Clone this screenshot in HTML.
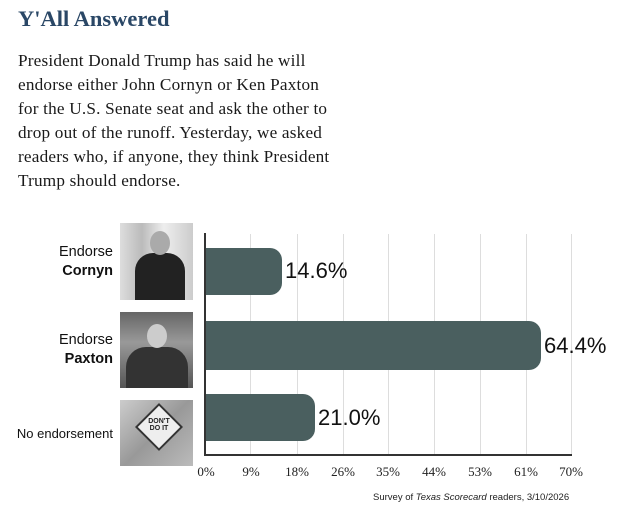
<!DOCTYPE html>
<html><head><meta charset="utf-8"><style>
body{margin:0;width:627px;height:517px;background:#fff;position:relative;overflow:hidden;font-family:"Liberation Sans",sans-serif}
.t{position:absolute;left:18px;top:6px;font:bold 22.5px "Liberation Serif",serif;color:#2a4766}
.p{position:absolute;left:18px;top:49px;width:380px;font:17.2px/24px "Liberation Serif",serif;color:#1a1a1a;letter-spacing:0.2px}
.p div{white-space:nowrap}
.ab{position:absolute}
.g{position:absolute;top:234px;height:221px;width:1px;background:#ddd}
.bar{position:absolute;left:206px;background:#4a5f5f;border-radius:0 12px 12px 0}
.v{position:absolute;font-size:22px;color:#111}
.tk{position:absolute;top:464px;font:13px "Liberation Serif",serif;color:#222;width:40px;margin-left:-20px;text-align:center}
.lab{position:absolute;font-size:14.5px;color:#111;text-align:right;line-height:19px}
.img{position:absolute;left:120px;width:73px}
</style></head><body>
<div class="t">Y'All Answered</div>
<div class="p"><div>President Donald Trump has said he will</div><div>endorse either John Cornyn or Ken Paxton</div><div>for the U.S. Senate seat and ask the other to</div><div>drop out of the runoff. Yesterday, we asked</div><div>readers who, if anyone, they think President</div><div>Trump should endorse.</div></div>

<div class="g" style="left:250px"></div><div class="g" style="left:297px"></div><div class="g" style="left:343px"></div><div class="g" style="left:388px"></div><div class="g" style="left:434px"></div><div class="g" style="left:480px"></div><div class="g" style="left:526px"></div><div class="g" style="left:571px"></div>
<div class="ab" style="left:204px;top:233px;width:2px;height:223px;background:#333"></div>
<div class="ab" style="left:204px;top:454px;width:368px;height:2px;background:#333"></div>

<div class="bar" style="top:248px;height:47px;width:76px"></div>
<div class="bar" style="top:321px;height:49px;width:335px"></div>
<div class="bar" style="top:394px;height:47px;width:109px"></div>
<div class="v" style="left:285px;top:258px">14.6%</div>
<div class="v" style="left:544px;top:333px">64.4%</div>
<div class="v" style="left:318px;top:405px">21.0%</div>

<div class="lab" style="right:514px;top:243px">Endorse<br><b>Cornyn</b></div>
<div class="lab" style="right:514px;top:331px">Endorse<br><b>Paxton</b></div>
<div class="lab" style="right:514px;top:424px;font-size:13px">No endorsement</div>

<div class="img" style="top:223px;height:77px;background:linear-gradient(90deg,#ddd,#bbb 30%,#eee 60%,#ccc)"><div class="ab" style="left:15px;top:30px;width:50px;height:47px;background:#222;border-radius:18px 18px 0 0"></div><div class="ab" style="left:30px;top:8px;width:20px;height:24px;background:#aaa;border-radius:50%"></div></div>
<div class="img" style="top:312px;height:76px;background:linear-gradient(#666,#999 40%,#555)"><div class="ab" style="left:6px;top:35px;width:62px;height:41px;background:#333;border-radius:20px 20px 0 0"></div><div class="ab" style="left:27px;top:12px;width:20px;height:24px;background:#ccc;border-radius:50%"></div></div>
<div class="img" style="top:400px;height:66px;background:linear-gradient(135deg,#ccc,#999 50%,#bbb)"><div class="ab" style="left:22px;top:10px;width:30px;height:30px;background:#eee;border:2px solid #333;transform:rotate(45deg)"></div><div class="ab" style="left:22px;top:18px;width:34px;font:bold 7px sans-serif;text-align:center;color:#222">DON'T<br>DO IT</div></div>

<div class="tk" style="left:206px">0%</div><div class="tk" style="left:251px">9%</div><div class="tk" style="left:297px">18%</div><div class="tk" style="left:343px">26%</div><div class="tk" style="left:388px">35%</div><div class="tk" style="left:434px">44%</div><div class="tk" style="left:480px">53%</div><div class="tk" style="left:526px">61%</div><div class="tk" style="left:571px">70%</div>
<div class="ab" style="left:373px;top:492px;font-size:9.5px;color:#222">Survey of <i>Texas Scorecard</i> readers, 3/10/2026</div>
</body></html>
